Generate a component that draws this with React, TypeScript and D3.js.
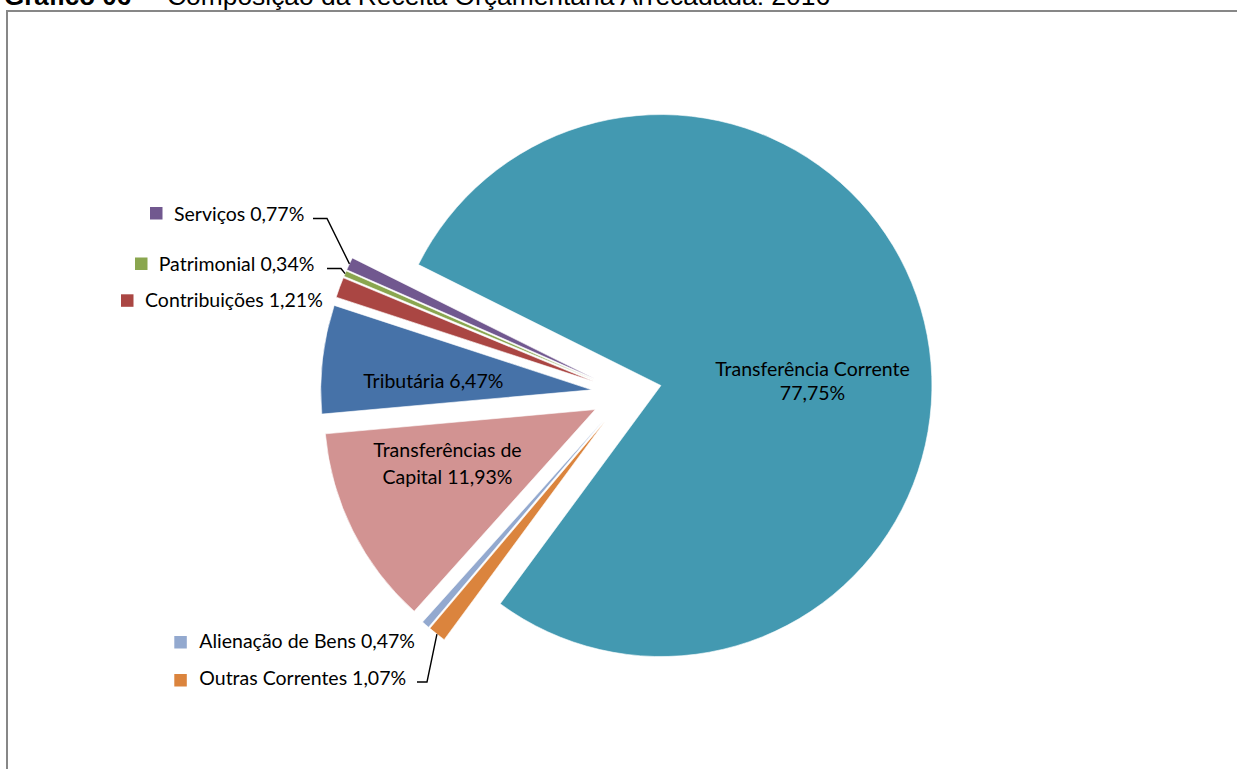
import React from 'react';
import * as d3 from 'd3';

// ---- data ----
const categories = [
  'Transferência Corrente',
  'Outras Correntes',
  'Alienação de Bens',
  'Transferências de Capital',
  'Tributária',
  'Contribuições',
  'Patrimonial',
  'Serviços',
];
const values = [77.75, 1.07, 0.47, 11.93, 6.47, 1.21, 0.34, 0.77];
const valueLabels = ['77,75%', '1,07%', '0,47%', '11,93%', '6,47%', '1,21%', '0,34%', '0,77%'];
const colors = ['#4399B1', '#DB843D', '#93A9CF', '#D29392', '#4672A8', '#AA4643', '#8AA64F', '#71588F'];

const titleBold = 'Gráfico 06';
const titleRest = 'Composição da Receita Orçamentária Arrecadada: 2016';

// ---- layout ----
const W = 1237;
const H = 769;
const CX = 626.7;
const CY = 393.8;
const R = 271;
const EXPLODE = 35.2;
const START = (-63.5 * Math.PI) / 180;
const FONT = 'Lato, "Noto Sans", sans-serif';
const FS = 19.5;

// inside labels: [index, x, baselines of lines]
const insideLabels = [
  { i: 0, x: 812.5, lines: ['Transferência Corrente', '77,75%'], y: [376, 400] },
  { i: 4, x: 433.3, lines: ['Tributária 6,47%'], y: [388.3] },
  { i: 3, x: 447.5, lines: ['Transferências de', 'Capital 11,93%'], y: [457.3, 483.5] },
];

// outside labels: marker, text start, baseline, optional leader
const outsideLabels = [
  { i: 7, mx: 150, my: 207, tx: 174, ty: 220.7, leader: [[313, 218.5], [327, 218.5]] },
  { i: 6, mx: 135, my: 257.5, tx: 158.7, ty: 270.7, leader: [[327, 268.5], [341, 268.5]] },
  { i: 5, mx: 121, my: 294.3, tx: 145, ty: 306.7, leader: null },
  { i: 2, mx: 174.3, my: 636, tx: 199.3, ty: 648.3, leader: null },
  { i: 1, mx: 174.3, my: 674, tx: 199.3, ty: 685, leader: [[417, 682], [427, 682]] },
];

export default function App() {
  const pie = d3
    .pie<number>()
    .sort(null)
    .value((d) => d)
    .startAngle(START)
    .endAngle(START + 2 * Math.PI);
  const arcs = pie(values);
  const arc = d3.arc<d3.PieArcDatum<number>>().innerRadius(0).outerRadius(R);

  const offset = (a: d3.PieArcDatum<number>) => {
    const m = (a.startAngle + a.endAngle) / 2;
    return [EXPLODE * Math.sin(m), -EXPLODE * Math.cos(m)];
  };
  const outerMid = (a: d3.PieArcDatum<number>) => {
    const m = (a.startAngle + a.endAngle) / 2;
    const [ox, oy] = offset(a);
    return [CX + ox + R * Math.sin(m), CY + oy - R * Math.cos(m)];
  };

  return (
    <div style={{ position: 'fixed', left: 0, top: 0 }}>
      <svg width={W} height={H} style={{ display: 'block', background: '#fff' }}>
        <text y={4.7} fontFamily='"Liberation Sans", Arial, sans-serif' fontSize={26} fill="#000">
          <tspan x={4} fontWeight="bold">{titleBold}</tspan>
          <tspan x={137}>–</tspan>
          <tspan x={167} fontSize={26.4}>{titleRest}</tspan>
        </text>
        <rect x={7} y={11} width={W + 10} height={H + 10} fill="none" stroke="#878787" strokeWidth={2} />

        <g>
          {arcs.map((a, k) => {
            const [ox, oy] = offset(a);
            return (
              <path
                key={categories[k]}
                d={arc(a) || ''}
                transform={`translate(${CX + ox},${CY + oy})`}
                fill={colors[k]}
                stroke="#fff"
                strokeWidth={0.6}
                strokeLinejoin="round"
              />
            );
          })}
        </g>

        <g fontFamily={FONT} fontSize={FS} fill="#000" textAnchor="middle">
          {insideLabels.map((l) =>
            l.lines.map((s, j) => (
              <text key={categories[l.i] + j} x={l.x} y={l.y[j]}>
                {s}
              </text>
            ))
          )}
        </g>

        <g fontFamily={FONT} fontSize={FS} fill="#000">
          {outsideLabels.map((l) => {
            const a = arcs[l.i];
            const end = outerMid(a);
            return (
              <g key={categories[l.i]}>
                <rect x={l.mx} y={l.my} width={12.5} height={12.5} fill={colors[l.i]} />
                <text x={l.tx} y={l.ty}>
                  {categories[l.i]} {valueLabels[l.i]}
                </text>
                {l.leader && (
                  <polyline
                    points={[...l.leader, end].map((p) => p.join(',')).join(' ')}
                    fill="none"
                    stroke="#000"
                    strokeWidth={1.4}
                  />
                )}
              </g>
            );
          })}
        </g>
      </svg>
    </div>
  );
}
